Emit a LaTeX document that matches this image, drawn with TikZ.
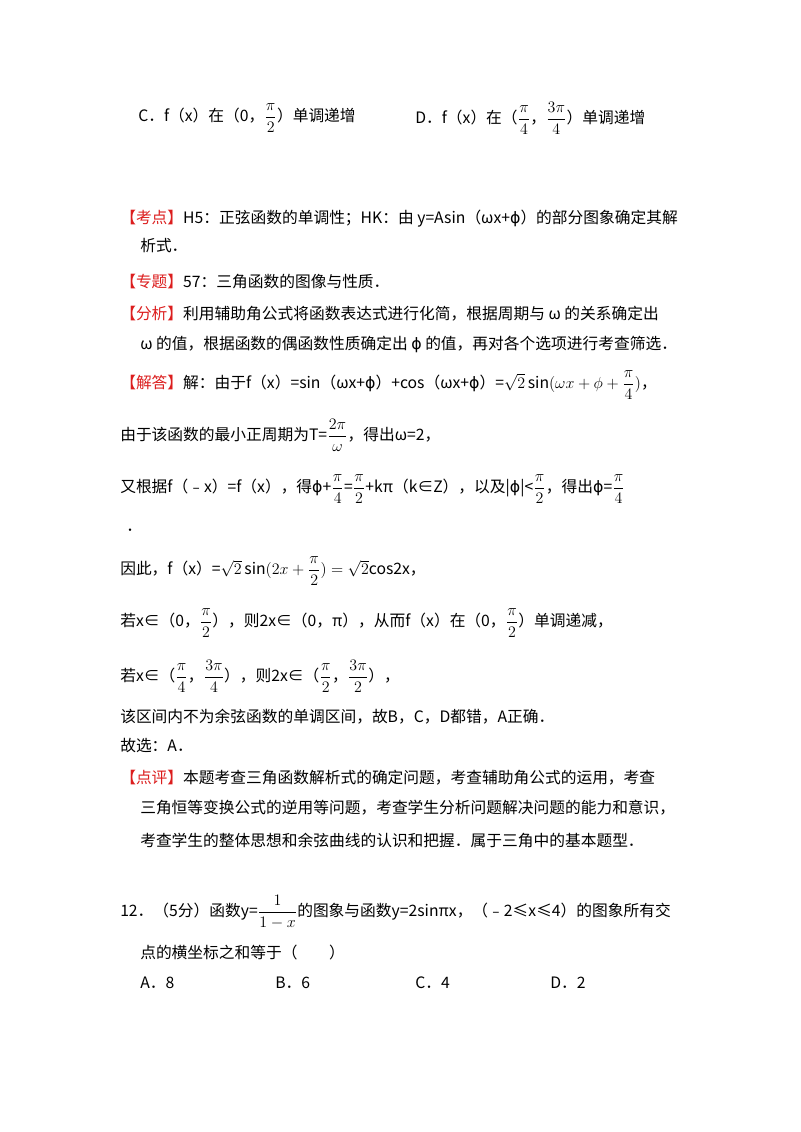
\documentclass[tikz,border=0pt]{standalone}
\usepackage{amsmath}
\usepackage{fontspec}
\setmainfont{Noto Sans CJK SC}
\newfontfamily\dejavu{DejaVu Sans}
\newcommand{\ph}{{\dejavu ϕ}}
\definecolor{kred}{RGB}{220,30,30}
\newcommand{\kd}[1]{\textcolor{kred}{【#1】}}
\begin{document}
\begin{tikzpicture}[x=0.75pt,y=-0.75pt,every node/.style={anchor=west,inner sep=0pt,font=\fontsize{11.8}{14}\selectfont}]
\useasboundingbox[fill=white] (0,0) rectangle (800,1132);
\node (c) at (138,118) {C．f（x）在（0，$\dfrac{\pi}{2}$）单调递增};
\node (d) at (415,118) {D．f（x）在（$\dfrac{\pi}{4}$，$\dfrac{3\pi}{4}$）单调递增};
\node (l1) at (120,219) {\kd{考点}H5：正弦函数的单调性；HK：由 y=Asin（ωx+\ph）的部分图象确定其解};
\node (l2) at (140,246) {析式．};
\node (l3) at (120,282) {\kd{专题}57：三角函数的图像与性质．};
\node (l4) at (120,314) {\kd{分析}利用辅助角公式将函数表达式进行化简，根据周期与 ω 的关系确定出};
\node (l5) at (140,344) {ω 的值，根据函数的偶函数性质确定出 \ph\ 的值，再对各个选项进行考查筛选．};
\node (l6) at (120,385) {\kd{解答}解：由于f（x）=sin（ωx+\ph）+cos（ωx+\ph）=$\sqrt2\sin(\omega x+\phi+\dfrac{\pi}{4})$，};
\node (l7) at (120,435) {由于该函数的最小正周期为T=$\dfrac{2\pi}{\omega}$，得出ω=2，};
\node (l8) at (120,489) {又根据f（﹣x）=f（x），得\ph+$\dfrac{\pi}{4}$=$\dfrac{\pi}{2}$+kπ（k∈Z），以及|\ph|<$\dfrac{\pi}{2}$，得出\ph=$\dfrac{\pi}{4}$};
\node (l9) at (126,530) {．};
\node (l10) at (120,571) {因此，f（x）=$\sqrt2\sin(2x+\dfrac{\pi}{2})=\sqrt2$cos2x，};
\node (l11) at (120,623) {若x∈（0，$\dfrac{\pi}{2}$），则2x∈（0，π），从而f（x）在（0，$\dfrac{\pi}{2}$）单调递减，};
\node (l12) at (120,676) {若x∈（$\dfrac{\pi}{4}$，$\dfrac{3\pi}{4}$），则2x∈（$\dfrac{\pi}{2}$，$\dfrac{3\pi}{2}$），};
\node (l13) at (120,717) {该区间内不为余弦函数的单调区间，故B，C，D都错，A正确．};
\node (l14) at (120,746) {故选：A．};
\node (l15) at (120,778) {\kd{点评}本题考查三角函数解析式的确定问题，考查辅助角公式的运用，考查};
\node (l16) at (140,808) {三角恒等变换公式的逆用等问题，考查学生分析问题解决问题的能力和意识，};
\node (l17) at (140,840) {考查学生的整体思想和余弦曲线的认识和把握．属于三角中的基本题型．};
\node (l18) at (120,912) {12．（5分）函数y=$\dfrac{1}{1-x}$的图象与函数y=2sinπx，（﹣2≤x≤4）的图象所有交};
\node (l19) at (140,953) {点的横坐标之和等于（　　）};
\node (a) at (140,983) {A．8};
\node (b) at (275,983) {B．6};
\node (cc) at (415,983) {C．4};
\node (dd) at (550,983) {D．2};
\end{tikzpicture}
\end{document}
